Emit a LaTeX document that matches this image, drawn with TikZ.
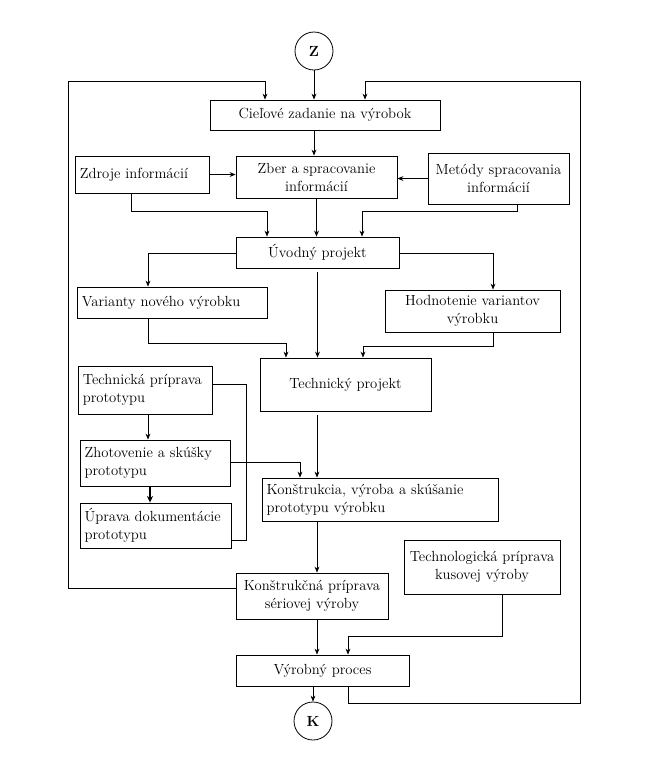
\documentclass[tikz,border=0pt]{standalone}
\usetikzlibrary{arrows.meta}
\begin{document}
\begin{tikzpicture}[x=0.75pt,y=-0.75pt,
  box/.style={draw, line width=0.6pt, rectangle, inner sep=2pt, align=center,
    font=\fontsize{11}{13.5}\selectfont},
  lbox/.style={box, align=left, inner xsep=3.5pt},
  rnd/.style={draw, line width=0.6pt, circle, minimum size=28.5pt, inner sep=0pt,
    font=\fontsize{11}{13}\selectfont\bfseries},
  conn/.style={line width=0.6pt},
  arr/.style={conn, -{Stealth[length=4.5pt,width=3.6pt]}},
  thickarr/.style={line width=1.2pt, -{Stealth[length=5pt,width=4.5pt]}}]
\useasboundingbox (0,0) rectangle (649,769);

% nodes
\node[rnd] (Z) at (314,51) {Z};
\node[box, minimum width=172.5pt, minimum height=22.5pt] (ciel) at (325,115) {Cieľové zadanie na výrobok};
\node[lbox, text width=94pt, minimum height=27.75pt] (zdroje) at (142.5,174.5) {Zdroje informácií};
\node[box, minimum width=120.75pt, minimum height=31.5pt] (zber) at (316.5,177) {Zber a spracovanie\\informácií};
\node[box, minimum width=105.75pt, minimum height=38.25pt] (metody) at (498.5,178.5) {Metódy spracovania\\informácií};
\node[box, minimum width=122.25pt, minimum height=23.25pt] (uvodny) at (317.5,252.5) {Úvodný projekt};
\node[lbox, text width=136pt, minimum height=23.25pt] (varianty) at (172.5,302.5) {Varianty nového výrobku};
\node[box, minimum width=131.25pt, minimum height=31.5pt] (hodnot) at (472.5,311) {Hodnotenie variantov\\výrobku};
\node[box, minimum width=128.25pt, minimum height=39.75pt] (technicky) at (345.5,384.5) {Technický projekt};
\node[lbox, text width=94pt, minimum height=36pt] (techprip) at (145.5,390) {Technická príprava\\prototypu};
\node[lbox, text width=105.5pt, minimum height=34.5pt] (zhot) at (155,463) {Zhotovenie a skúšky\\prototypu};
\node[lbox, text width=106.25pt, minimum height=33.75pt] (uprava) at (155.5,525.5) {Úprava dokumentácie\\prototypu};
\node[lbox, text width=170pt, minimum height=32.25pt] (konstr) at (380,499.5) {Konštrukcia, výroba a skúšanie\\prototypu výrobku};
\node[box, minimum width=117pt, minimum height=40.5pt] (technol) at (482,567) {Technologická príprava\\kusovej výroby};
\node[box, minimum width=114pt, minimum height=34.5pt] (konstrna) at (312,596) {Konštrukčná príprava\\sériovej výroby};
\node[box, minimum width=129.75pt, minimum height=23.25pt] (vyrobny) at (322.5,670.5) {Výrobný proces};
\node[rnd] (K) at (313,721) {K};

% coordinates for bends
\coordinate (ol1) at (68,588);
\coordinate (ol2) at (68,81);
\coordinate (ol3) at (265,81);
\coordinate (or1) at (348,703);
\coordinate (or2) at (580,703);
\coordinate (or3) at (580,81);
\coordinate (or4) at (365,81);
\coordinate (a1) at (131,211);
\coordinate (a2) at (267,211);
\coordinate (b1) at (517,211);
\coordinate (b2) at (362,211);
\coordinate (c1) at (148,253);
\coordinate (c2) at (493,253);
\coordinate (d1) at (148,343);
\coordinate (d2) at (286,343);
\coordinate (e1) at (493,346);
\coordinate (e2) at (363,346);
\coordinate (f1) at (246,384);
\coordinate (f2) at (246,540);
\coordinate (g) at (148,0);
\coordinate (gg) at (150,0);
\coordinate (h1) at (300,462);
\coordinate (m) at (317,0);
\coordinate (t1) at (502,636);
\coordinate (t2) at (348,636);

% connectors
\draw[arr] (Z) -- (Z |- ciel.north);
\draw[arr] (konstrna.west |- ol1) -- (ol1) -- (ol2) -- (ol3) -- (ol3 |- ciel.north);
\draw[arr] (or1 |- vyrobny.south) -- (or1) -- (or2) -- (or3) -- (or4) -- (or4 |- ciel.north);
\draw[arr] (Z |- ciel.south) -- (Z |- zber.north);
\draw[arr] (zdroje.east) -- (zber.west |- zdroje.east);
\draw[arr] (metody.west) -- (zber.east |- metody.west);
\draw[arr] (a1 |- zdroje.south) -- (a1) -- (a2) -- (a2 |- uvodny.north);
\draw[arr] (zber.south) -- (zber.south |- uvodny.north);
\draw[arr] (b1 |- metody.south) -- (b1) -- (b2) -- (b2 |- uvodny.north);
\draw[arr] (uvodny.west |- c1) -- (c1) -- (c1 |- varianty.north);
\draw[arr] (uvodny.east |- c2) -- (c2) -- (c2 |- hodnot.north);
\draw[arr] ([yshift=-3pt]uvodny.south) -- (uvodny.south |- technicky.north);
\draw[arr] (d1 |- varianty.south) -- (d1) -- (d2) -- (d2 |- technicky.north);
\draw[arr] (e1 |- hodnot.south) -- (e1) -- (e2) -- (e2 |- technicky.north);
\draw[conn] (techprip.east |- f1) -- (f1) -- (f2) -- (uprava.east |- f2);
\draw[arr] (g |- techprip.south) -- (g |- zhot.north);
\draw[thickarr] (gg |- zhot.south) -- (gg |- uprava.north);
\draw[arr] (zhot.east |- h1) -- (h1) -- (h1 |- konstr.north);
\draw[arr] ([yshift=-3pt]m |- technicky.south) -- (m |- konstr.north);
\draw[arr] (m |- konstr.south) -- (m |- konstrna.north);
\draw[arr] (m |- konstrna.south) -- (m |- vyrobny.north);
\draw[arr] (t1 |- technol.south) -- (t1) -- (t2) -- (t2 |- vyrobny.north);
\draw[arr] (K |- vyrobny.south) -- (K);
\end{tikzpicture}
\end{document}
